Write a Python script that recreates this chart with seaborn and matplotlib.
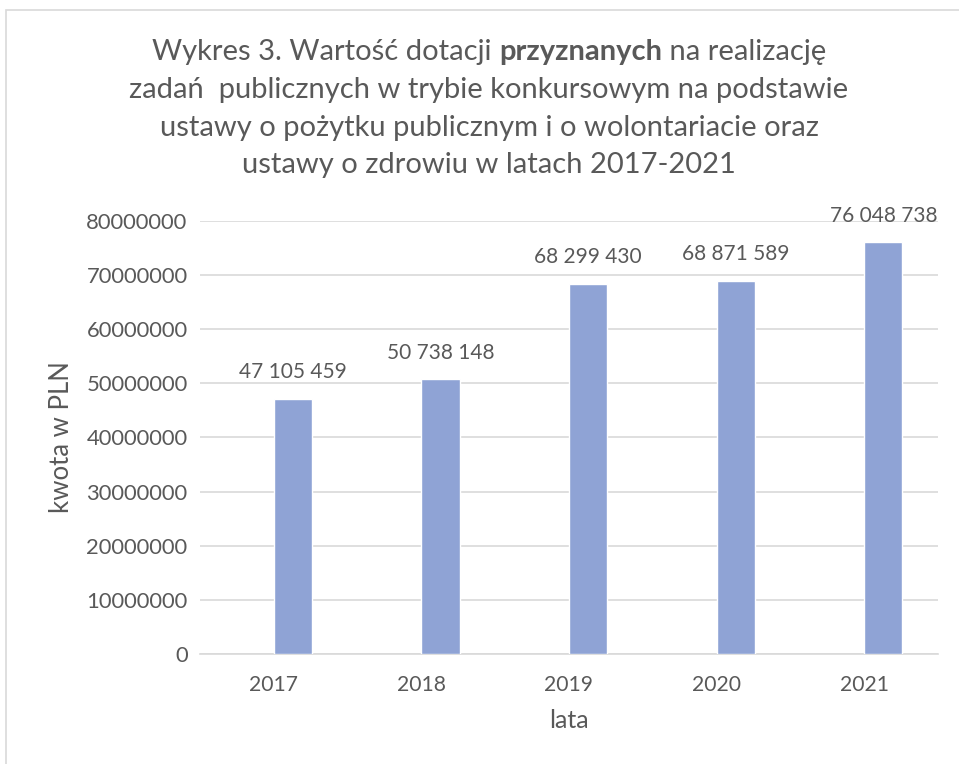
import matplotlib
matplotlib.use("Agg")
import matplotlib.pyplot as plt
import numpy as np
import pandas as pd
import seaborn as sns
from matplotlib.patches import Rectangle

# ─────────────────────────────────────────────
# Data
# ─────────────────────────────────────────────
years = ["2017", "2018", "2019", "2020", "2021"]
amounts = [47105459, 50738148, 68299430, 68871589, 76048738]
y_ticks = [0, 10000000, 20000000, 30000000, 40000000, 50000000, 60000000, 70000000, 80000000]
# the source chart has an empty first series, so the bars sit right of centre
series = ["puste", "kwota"]

BAR_COLOR = "#8FA3D5"
TEXT_COLOR = "#595959"
GRID_COLOR = "#D9D9D9"
FONT = ["Lato", "DejaVu Sans"]

df = pd.DataFrame({
    "rok": years * 2,
    "seria": [series[0]] * len(years) + [series[1]] * len(years),
    "kwota": [np.nan] * len(years) + amounts,
})

sns.set_theme(style="white")
plt.rcParams["font.family"] = FONT

fig = plt.figure(figsize=(9.59, 7.64), dpi=100)
ax = fig.add_axes([0.2086, 0.144, 0.7694, 0.567])

sns.barplot(data=df, x="rok", y="kwota", hue="seria", hue_order=series,
            palette=[BAR_COLOR, BAR_COLOR], width=0.52, dodge=True,
            saturation=1, legend=False, ax=ax, zorder=3)

ax.set_ylim(0, 80000000)
ax.set_xlim(-0.5, len(years) - 0.5)
ax.set_yticks(y_ticks)
ax.set_yticklabels([str(t) for t in y_ticks])
ax.yaxis.grid(True, color=GRID_COLOR, linewidth=1.2, zorder=0)
ax.set_axisbelow(True)
for side in ["top", "right", "left"]:
    ax.spines[side].set_visible(False)
ax.spines["bottom"].set_color(GRID_COLOR)
ax.spines["bottom"].set_linewidth(1.2)
ax.tick_params(axis="y", length=0, labelsize=15.8, colors=TEXT_COLOR, pad=9)
ax.tick_params(axis="x", length=0, labelsize=15.2, colors=TEXT_COLOR, pad=15)

ax.set_xlabel("lata", fontsize=18, color=TEXT_COLOR, labelpad=10)
ax.set_ylabel("kwota w PLN", fontsize=18.5, color=TEXT_COLOR, labelpad=9)

# data labels, centred over the drawn bars
bars = [p for p in ax.patches if p.get_height() > 0]
bars.sort(key=lambda p: p.get_x())
for p, v in zip(bars, amounts):
    label = f"{v:,}".replace(",", " ")
    ax.annotate(label, (p.get_x() + p.get_width() / 2, v), xytext=(0, 12),
                textcoords="offset points", ha="center", va="bottom",
                fontsize=15, color=TEXT_COLOR)

# ─────────────────────────────────────────────
# Title (with one bold word)
# ─────────────────────────────────────────────
title_size = 21
cx = 489 / 959
line_y = [52, 90, 128, 165]

fig.canvas.draw()
renderer = fig.canvas.get_renderer()


def _width(txt, weight):
    t = fig.text(0, 0, txt, fontsize=title_size, fontweight=weight)
    w = t.get_window_extent(renderer).width / fig.bbox.width
    t.remove()
    return w


parts = [("Wykres 3. Wartość dotacji ", "normal"), ("przyznanych", "bold"),
         (" na realizację", "normal")]
widths = [_width(p, w) for p, w in parts]
x = cx - sum(widths) / 2
y0 = 1 - line_y[0] / 764
for (p, w), wd in zip(parts, widths):
    fig.text(x, y0, p, fontsize=title_size, fontweight=w, color=TEXT_COLOR,
             ha="left", va="center")
    x += wd

other_lines = [
    "zadań  publicznych w trybie konkursowym na podstawie",
    "ustawy o pożytku publicznym i o wolontariacie oraz",
    "ustawy o zdrowiu w latach 2017-2021",
]
for line, yy in zip(other_lines, line_y[1:]):
    fig.text(cx, 1 - yy / 764, line, fontsize=title_size, color=TEXT_COLOR,
             ha="center", va="center")

# chart border
fig.patches.append(Rectangle((6 / 959, -0.01), 1.0, 1 - 10 / 764 + 0.01,
                             transform=fig.transFigure, fill=False,
                             edgecolor="#D9D9D9", linewidth=1.2))

fig.savefig("out.png", dpi=100)
plt.close(fig)
